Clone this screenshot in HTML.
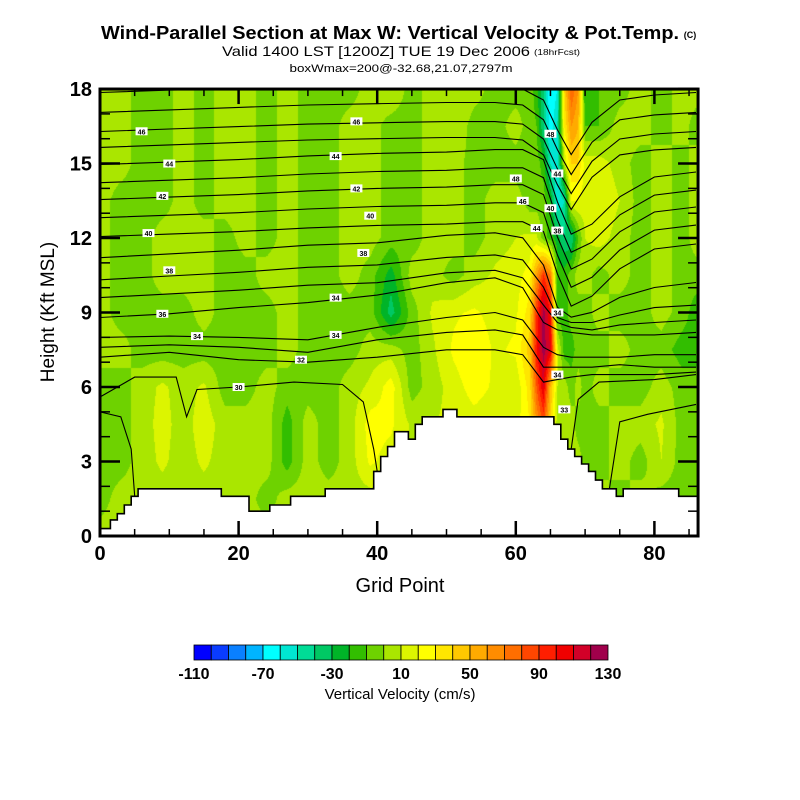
<!DOCTYPE html>
<html><head><meta charset="utf-8">
<style>
html,body{margin:0;padding:0;background:#fff;}
#wrap{position:relative;width:800px;height:800px;overflow:hidden;font-family:"Liberation Sans",Arial,sans-serif;}
#field{position:absolute;left:100px;top:89px;}
#ov{position:absolute;left:0;top:0;}
</style></head>
<body>
<div id="wrap">
<canvas id="field" width="598" height="447"></canvas>
<svg id="ov" width="800" height="800" xmlns="http://www.w3.org/2000/svg">
  <g>
    <text x="390" y="39" text-anchor="middle" font-size="18" font-weight="bold" textLength="578" lengthAdjust="spacingAndGlyphs">Wind-Parallel Section at Max W: Vertical Velocity &amp; Pot.Temp.</text>
    <text x="690" y="38" text-anchor="middle" font-size="9" font-weight="bold">(C)</text>
    <text x="376" y="56" text-anchor="middle" font-size="14" textLength="308" lengthAdjust="spacingAndGlyphs">Valid 1400 LST [1200Z] TUE 19 Dec 2006</text>
    <text x="557" y="55" text-anchor="middle" font-size="8" textLength="46" lengthAdjust="spacingAndGlyphs">(18hrFcst)</text>
    <text x="401" y="72" text-anchor="middle" font-size="11" textLength="223" lengthAdjust="spacingAndGlyphs">boxWmax=200@-32.68,21.07,2797m</text>
  </g>
  <g id="contours"></g>
  <g id="terrain"></g>
  <g id="labels"></g>
  <g id="axes"></g>
  <g id="cbar"></g>
  <text x="400" y="592" text-anchor="middle" font-size="20">Grid Point</text>
  <text transform="translate(54,312) rotate(-90)" text-anchor="middle" font-size="19">Height (Kft MSL)</text>
  <text x="400" y="699" text-anchor="middle" font-size="15">Vertical Velocity (cm/s)</text>
</svg>
</div>
<script>
// ---- data ----
const gridX = [0,3,6,9,12,15,18,21,24,27,30,33,36,39,42,45,48,51,54,57,60,62,63,64,65,66,67,68,69,70,72,75,78,81,84,86];
const gridZ = [0,1.5,3,4.5,6,7.5,9,10.5,12,13.5,15,16.5,18];
const w00 = [5,5,5,5,5,5,5,5,5,5,5,5,5,5,5,5,5,5,5,5,5,5,5,5,5,5,5,5,5,5,5,5,5,5,5,5];
const w15 = [-5,5,5,5,5,5,5,5,-5,5,5,5,5,5,5,5,5,5,5,5,5,5,5,5,5,5,5,5,5,5,5,-5,5,-5,-5,-5];
const w30 = [-5,-5,5,12,5,12,5,5,5,-15,5,-5,5,22,15,10,10,12,12,12,12,25,50,70,35,5,5,5,5,-5,-5,5,-5,10,-5,-5];
const w45 = [-5,-5,5,14,5,16,5,5,5,-15,5,-5,5,25,22,8,10,12,15,12,15,30,60,80,40,5,5,5,-5,-5,-5,5,5,12,-5,-5];
const w60 = [-5,-5,5,12,5,12,-5,-5,5,-5,-5,-5,5,12,25,-5,5,15,25,18,12,35,80,110,50,10,5,-5,5,-5,5,-5,-5,5,-5,-5];
const w75 = [5,5,-5,-5,-5,-5,-5,-5,-5,5,-5,-5,-5,5,5,-5,8,22,30,18,22,45,100,125,110,15,-15,-15,-5,-5,-5,5,-5,-5,-15,-15];
const w90 = [5,-5,-5,-5,-5,5,-5,-5,-5,5,-5,-5,-5,-5,-35,-5,12,18,22,15,18,35,90,125,100,-15,-15,-5,-5,-5,5,-5,-5,5,-5,-15];
const w105 = [5,-5,-5,5,5,5,-5,-5,5,5,-5,-5,5,-5,-25,5,5,-5,5,12,15,25,60,90,70,-15,-15,-5,5,5,-5,5,-5,5,-5,-5];
const w120 = [5,-5,-5,5,5,5,-5,5,-5,5,-5,-5,5,5,-5,-5,5,5,-5,5,10,12,12,-5,-15,-25,-40,-40,-10,10,15,5,-5,5,-5,5];
const w135 = [5,-5,-5,-5,5,-5,5,5,-5,5,-5,-5,5,5,-5,-5,5,5,-5,5,5,-5,-5,-5,-20,-60,-50,20,20,15,20,10,-5,5,-5,5];
const w150 = [5,5,-5,-5,5,-5,5,5,-5,5,-5,-5,5,5,-5,-5,5,5,-5,-5,-5,-5,-5,-15,-50,-60,10,40,40,15,15,5,-5,5,-5,5];
const w165 = [5,5,-5,-5,5,-5,5,5,-5,5,-5,-5,5,5,-5,-5,5,10,-5,-5,5,-5,-10,-40,-65,-50,30,60,50,-10,-10,5,5,-5,5,-5];
const w180 = [5,5,-5,-5,5,-5,5,5,-5,5,-5,-5,-5,5,10,-5,5,10,5,-5,-5,-5,-15,-40,-70,-60,40,80,60,-20,-10,-5,5,-5,5,5];
const wRows = [w00,w15,w30,w45,w60,w75,w90,w105,w120,w135,w150,w165,w180];

const terrainKft = [0.3,0.3,0.65,0.9,1.25,1.6,1.9,1.9,1.9,1.9,1.9,1.9,1.9,1.9,1.9,1.9,1.9,1.9,
 1.6,1.6,1.6,1.6,1.0,1.0,1.0,1.25,1.25,1.25,1.6,1.6,1.6,1.6,1.6,1.9,1.9,1.9,1.9,1.9,1.9,1.9,
 2.6,3.2,3.6,4.2,4.2,3.9,4.5,4.8,4.8,4.8,5.1,5.1,
 4.8,4.8,4.8,4.8,4.8,4.8,4.8,4.8,4.8,4.8,4.8,4.8,4.8,4.8,
 4.5,3.9,3.5,3.2,2.9,2.6,2.25,1.9,1.9,1.6,1.9,1.9,1.9,1.9,1.9,1.9,1.9,1.9,1.6,1.6,1.6];

const colorLevels = [-110,-100,-90,-80,-70,-60,-50,-40,-30,-20,-10,0,10,20,30,40,50,60,70,80,90,100,110,120,130];
const colorTickLabels = ["-110","-70","-30","10","50","90","130"];
const palette = ["#0000ff","#0a3cff","#0a80ff","#00b4ff","#00ffff","#00e6d2","#00dc96","#00c864","#00b428","#32be00","#6ed200","#aae600","#dcf500","#ffff00","#ffe600","#ffc800","#ffaa00","#ff8c00","#ff6e00","#ff4600","#ff1e00","#f00000","#d20028","#a0004b"];

const thetaX = [0,10,20,30,40,50,57,61,64,66,68,71,75,80,86];
const thetaLines = [
 [17.86,17.96,18.06,18.16,18.21,18.26,18.26,18.16,17.56,16.36,15.36,16.66,17.56,17.76,17.86],
 [17.06,17.16,17.26,17.36,17.41,17.46,17.46,17.36,16.76,15.56,14.56,15.86,16.76,16.96,17.06],
 [16.29,16.39,16.49,16.59,16.64,16.69,16.69,16.59,15.99,14.79,13.79,15.09,15.99,16.19,16.29],
 [15.65,15.75,15.85,15.95,16.0,16.05,16.05,15.95,15.35,14.15,13.15,14.45,15.35,15.55,15.65],
 [14.96,15.06,15.16,15.31,15.41,15.46,15.56,15.56,15.16,13.46,12.16,12.56,13.66,14.46,14.66],
 [14.23,14.33,14.43,14.58,14.68,14.73,14.83,14.83,14.43,12.73,11.43,11.83,12.93,13.73,13.93],
 [13.55,13.65,13.75,13.9,14.0,14.05,14.15,14.15,13.75,12.05,10.75,11.15,12.25,13.05,13.25],
 [12.82,12.92,13.02,13.17,13.27,13.32,13.42,13.42,13.02,11.32,10.02,10.42,11.52,12.32,12.52],
 [12.06,12.16,12.26,12.41,12.51,12.56,12.66,12.66,12.26,10.56,9.26,9.66,10.76,11.56,11.76],
 [11.21,11.36,11.51,11.71,11.81,12.11,12.21,12.01,10.91,9.21,8.81,9.01,9.61,10.01,10.21],
 [10.32,10.47,10.62,10.82,10.92,11.22,11.32,11.12,10.02,8.8,8.6,8.6,8.9,9.2,9.3],
 [9.6,9.75,9.9,10.1,10.2,10.6,10.7,10.4,9.3,8.6,8.4,8.3,8.5,8.6,8.7],
 [8.8,8.95,9.2,9.4,9.7,10.2,10.4,10.0,8.6,8.3,8.2,8.1,8.1,8.1,8.2],
 [8.0,8.05,8.0,7.9,8.4,8.8,9.0,8.7,7.6,7.3,7.2,7.2,7.2,7.3,7.3],
 [7.6,7.7,7.6,7.4,7.9,8.2,8.3,8.1,6.8,6.8,6.8,6.8,6.9,6.8,6.8],
 [7.2,7.4,7.1,7.0,7.2,7.5,7.5,7.3,6.2,6.3,6.4,6.5,6.5,6.5,6.6]
];
const dome30 = [[0,5.6],[5,6.4],[11,6.4],[12.5,4.8],[14,5.9],[20,6.0],[28,6.2],[35,6.1],[38,5.4],[39.5,3.5],[40,2.6]];
const domeLeft = [[0,5.0],[3,4.8],[4.5,3.5],[5,1.6]];
const domeRight1 = [[68,3.5],[69,5.5],[72,6.2],[80,6.3],[86,6.5]];
const domeRight2 = [[73.5,1.9],[75,4.6],[79,4.9],[86,5.3]];
const contourLabels = [["46",6,16.3],["44",10,15.0],["42",9,13.7],["40",7,12.2],["38",10,10.7],["36",9,8.95],["34",14,8.05],["32",29,7.1],["30",20,6.0],
 ["46",37,16.7],["44",34,15.3],["42",37,14.0],["40",39,12.9],["38",38,11.4],["34",34,9.6],["34",34,8.1],
 ["48",60,14.4],["46",61,13.5],["44",63,12.4],["48",65,16.2],["44",66,14.6],["40",65,13.2],["38",66,12.3],["34",66,9.0],["34",66,6.5],["33",67,5.1]];

// ---- scales ----
const PX0=100, PY0=536, SX=6.93, SZ=24.83, GPMAX=86.3;
const X = g => PX0 + g*SX;
const Y = k => PY0 - k*SZ;
const NS='http://www.w3.org/2000/svg';
function el(tag, attrs, parent){const e=document.createElementNS(NS,tag);for(const k in attrs)e.setAttribute(k,attrs[k]);parent.appendChild(e);return e;}

// ---- field ----
function interp(arr, v){
  let i=0; while(i<arr.length-2 && v>arr[i+1]) i++;
  const t=Math.max(0,Math.min(1,(v-arr[i])/(arr[i+1]-arr[i])));
  return [i,t];
}
function hexRgb(h){return [parseInt(h.substr(1,2),16),parseInt(h.substr(3,2),16),parseInt(h.substr(5,2),16)];}
const rgbPal = palette.map(hexRgb);
(function(){
  const cv=document.getElementById('field'); const ctx=cv.getContext('2d');
  const W=cv.width,H=cv.height; const img=ctx.createImageData(W,H);
  const colIdx=[]; for(let px=0;px<W;px++) colIdx.push(interp(gridX,(px+0.5)/SX));
  for(let py=0;py<H;py++){
    const k=(H-py-0.5)/SZ; const [j,u]=interp(gridZ,k);
    const r0=wRows[j], r1=wRows[j+1];
    for(let px=0;px<W;px++){
      const [i,t]=colIdx[px];
      const a=r0[i]*(1-t)+r0[i+1]*t, b=r1[i]*(1-t)+r1[i+1]*t;
      const w=a*(1-u)+b*u;
      let idx=Math.floor((w-colorLevels[0])/10); idx=Math.max(0,Math.min(23,idx));
      const c=rgbPal[idx]; const o=(py*W+px)*4;
      img.data[o]=c[0];img.data[o+1]=c[1];img.data[o+2]=c[2];img.data[o+3]=255;
    }
  }
  ctx.putImageData(img,0,0);
})();

// ---- contours ----
const cg=document.getElementById('contours');
function clipK(k){return Math.min(18,k);}
thetaLines.forEach((ln,n)=>{
  const d=ln.map((k,i)=>(i?'L':'M')+X(thetaX[i]).toFixed(1)+','+Y(clipK(k)).toFixed(1)).join(' ');
  const p=el('path',{d:d,fill:'none',stroke:'#000','stroke-width':1.1},cg);
  
  
});
[dome30,domeLeft,domeRight1,domeRight2].forEach(pts=>{
  const d=pts.map((p,i)=>(i?'L':'M')+X(p[0]).toFixed(1)+','+Y(p[1]).toFixed(1)).join(' ');
  const p=el('path',{d:d,fill:'none',stroke:'#000','stroke-width':1.1},cg);
  
  
});

// ---- terrain ----
(function(){
  const tg=document.getElementById('terrain');
  let d='M'+X(0)+','+Y(0);
  let top='';
  terrainKft.forEach((t,i)=>{
    const x0=Math.max(X(0),X(i-0.5)), x1=Math.min(X(GPMAX),X(i+0.5));
    d+=' L'+x0.toFixed(1)+','+Y(t).toFixed(1)+' L'+x1.toFixed(1)+','+Y(t).toFixed(1);
    top+=(i?' L':'M')+x0.toFixed(1)+','+Y(t).toFixed(1)+' L'+x1.toFixed(1)+','+Y(t).toFixed(1);
  });
  d+=' L'+X(GPMAX)+','+Y(0)+' Z';
  const f=el('path',{d:d,fill:'#fff',stroke:'none'},tg);
  
  
  const s=el('path',{d:top,fill:'none',stroke:'#000','stroke-width':1.6},tg);
  
  
})();

// ---- contour labels ----
(function(){
  const lg=document.getElementById('labels');
  contourLabels.forEach(c=>{
    const x=X(c[1]), y=Y(c[2]);
    const r=el('rect',{x:x-6,y:y-4,width:12,height:8,fill:'#fff'},lg);
    
    
    const t=el('text',{x:x,y:y+3,'text-anchor':'middle','font-size':7,'font-weight':'bold'},lg);
    t.textContent=c[0];
    
    
  });
})();

// ---- axes ----
(function(){
  const ag=document.getElementById('axes');
  const L=X(0), R=X(GPMAX), T=Y(18), B=Y(0);
  const fr=el('rect',{x:L,y:T,width:R-L,height:B-T,fill:'none',stroke:'#000','stroke-width':3},ag);
  
  
  for(let g=0;g<=85;g+=5){
    const len=(g%20===0)?15:7;
    const t1=el('line',{x1:X(g),x2:X(g),y1:B,y2:B-len,stroke:'#000','stroke-width':(g%20===0)?2.5:1.5},ag);
    
    
    const t2=el('line',{x1:X(g),x2:X(g),y1:T,y2:T+len,stroke:'#000','stroke-width':(g%20===0)?2.5:1.5},ag);
    
    
    if(g%20===0){
      const tx=el('text',{x:X(g),y:B+24,'text-anchor':'middle','font-size':20,'font-weight':'bold'},ag);
      tx.textContent=String(g);
      
      
    }
  }
  for(let k=0;k<=18;k++){
    const major=(k%3===0); const len=major?20:10;
    const t1=el('line',{x1:L,x2:L+len,y1:Y(k),y2:Y(k),stroke:'#000','stroke-width':major?2.5:1.5},ag);
    
    
    const t2=el('line',{x1:R,x2:R-len,y1:Y(k),y2:Y(k),stroke:'#000','stroke-width':major?2.5:1.5},ag);
    
    
    if(major){
      const tx=el('text',{x:92,y:Y(k)+7,'text-anchor':'end','font-size':20,'font-weight':'bold'},ag);
      tx.textContent=String(k);
      
      
    }
  }
})();

// ---- colorbar ----
(function(){
  const cb=document.getElementById('cbar');
  const x0=194, x1=608, y0=645, h=15, n=palette.length, cw=(x1-x0)/n;
  const CX=v=>x0+(v-colorLevels[0])/(colorLevels[colorLevels.length-1]-colorLevels[0])*(x1-x0);
  palette.forEach((c,i)=>{
    const r=el('rect',{x:CX(colorLevels[i]),y:y0,width:cw,height:h,fill:c,stroke:'#000','stroke-width':0.8},cb);
    
    
  });
  colorTickLabels.forEach(s=>{
    const t=el('text',{x:CX(parseFloat(s)),y:679,'text-anchor':'middle','font-size':16,'font-weight':'bold'},cb);
    t.textContent=s;
    
    
  });
})();
</script>
</body></html>
